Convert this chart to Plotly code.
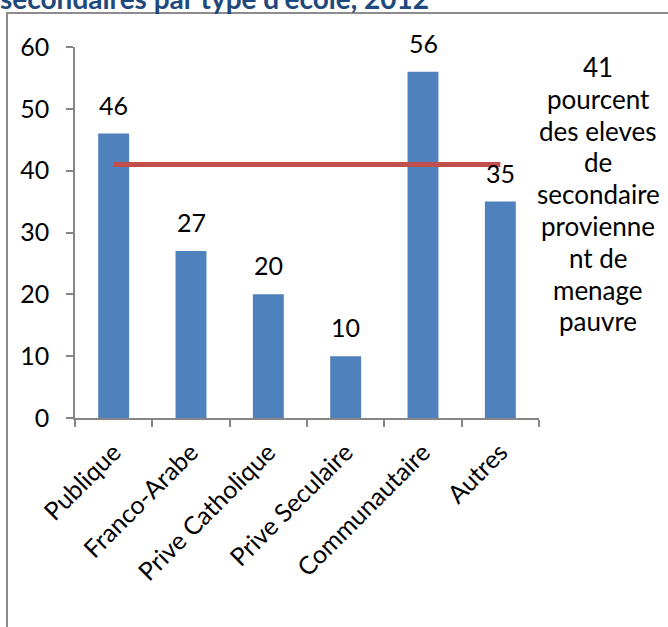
import plotly.graph_objects as go

# Data
categories = ["Publique", "Franco-Arabe", "Prive Catholique", "Prive Seculaire", "Communautaire", "Autres"]
values = [46, 27, 20, 10, 56, 35]
poverty_share = 41
title_text = "secondaires par type d'école, 2012"
note_lines = ["41", "pourcent", "des eleves", "de", "secondaire", "provienne", "nt de", "menage", "pauvre"]
y_ticks = [0, 10, 20, 30, 40, 50, 60]

W, H = 668, 627
L, R, T, B = 75, 129, 47, 209
PW, PH = W - L - R, H - T - B
FONT = "Lato"
FS = 25
AXIS_GRAY = "#868686"


def px_x(px):
    return (px - L) / PW


def px_y(py):
    return (H - B - py) / PH


fig = go.Figure()

fig.add_trace(go.Bar(
    x=categories, y=values,
    marker=dict(color="#4F81BD", line=dict(width=0)),
    width=0.4,
    hoverinfo="skip",
))

fig.add_trace(go.Scatter(
    x=[categories[0], categories[-1]], y=[poverty_share, poverty_share],
    mode="lines",
    line=dict(color="#C0504D", width=5),
    hoverinfo="skip",
))

annotations = []
for c, v in zip(categories, values):
    annotations.append(dict(
        x=c, y=v, xref="x", yref="y", text=str(v), showarrow=False,
        yanchor="bottom", yshift=12, font=dict(family=FONT, size=FS, color="black"),
    ))

# side note, one line per annotation for tight line spacing
for i, line in enumerate(note_lines):
    annotations.append(dict(
        x=px_x(598), y=px_y(67 + i * 31.8), xref="paper", yref="paper",
        text=line, showarrow=False, xanchor="center", yanchor="middle",
        font=dict(family=FONT, size=26, color="black"),
    ))

annotations.append(dict(
    x=px_x(-2), y=px_y(-2), xref="paper", yref="paper",
    text="<b>" + title_text + "</b>", showarrow=False,
    xanchor="left", yanchor="middle",
    font=dict(family=FONT, size=28, color="#1F497D"),
))

fig.add_shape(
    type="rect", xref="paper", yref="paper",
    x0=px_x(7), x1=px_x(720), y0=px_y(700), y1=px_y(13),
    line=dict(color="#8C8C8C", width=2), fillcolor="rgba(0,0,0,0)", layer="below",
)

fig.update_layout(
    width=W, height=H,
    margin=dict(l=L, r=R, t=T, b=B, autoexpand=False),
    paper_bgcolor="white", plot_bgcolor="white",
    showlegend=False,
    annotations=annotations,
    font=dict(family=FONT, size=FS, color="black"),
    xaxis=dict(
        type="category", range=[-0.5, len(categories) - 0.5],
        showline=True, linecolor=AXIS_GRAY, linewidth=1.5,
        ticks="outside", tickson="boundaries", ticklen=7, tickcolor=AXIS_GRAY, tickwidth=1.5,
        tickangle=-45, showgrid=False, zeroline=False,
        tickfont=dict(family=FONT, size=FS, color="black"),
        ticklabelstandoff=8,
    ),
    yaxis=dict(
        range=[0, 60], tickvals=y_ticks,
        showline=True, linecolor=AXIS_GRAY, linewidth=1.5,
        ticks="outside", ticklen=7, tickcolor=AXIS_GRAY, tickwidth=1.5,
        showgrid=False, zeroline=False,
        tickfont=dict(family=FONT, size=FS, color="black"),
        ticklabelstandoff=12,
    ),
)

fig.write_html("out.html")
